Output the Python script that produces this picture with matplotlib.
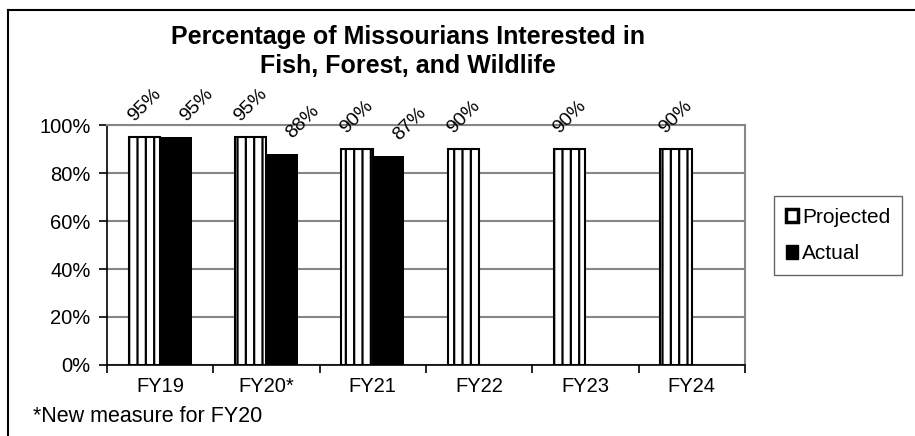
import numpy as np
import matplotlib.pyplot as plt
from matplotlib.patches import Patch
from matplotlib.lines import Line2D

plt.rcParams['font.family'] = ['Liberation Sans', 'DejaVu Sans']
plt.rcParams['hatch.linewidth'] = 1.6

years     = ['FY19', 'FY20*', 'FY21', 'FY22', 'FY23', 'FY24']
projected = [0.95, 0.95, 0.90, 0.90, 0.90, 0.90]
actual    = [0.95, 0.88, 0.87, None, None, None]
title1    = 'Percentage of Missourians Interested in'
title2    = 'Fish, Forest, and Wildlife'
footnote  = '*New measure for FY20'

fig = plt.figure(figsize=(9.15, 4.36), dpi=100)
ax = fig.add_axes([0.117, 0.163, 0.697, 0.550])

x = np.arange(len(years))
w = 0.295
barsP = ax.bar(x - w/2, projected, w, facecolor='white', edgecolor='black',
               linewidth=1.5, hatch='||', zorder=3)
act_x = [xi for xi, v in zip(x, actual) if v is not None]
act_v = [v for v in actual if v is not None]
barsA = ax.bar(np.array(act_x) + w/2, act_v, w, color='black', zorder=3)

# rotated value labels above the bars
for b, v in zip(barsP, projected):
    ax.annotate('{:.0%}'.format(v), (b.get_x() + b.get_width()/2, v),
                xytext=(0, 9), textcoords='offset points', ha='center',
                va='bottom', rotation=45, fontsize=14, annotation_clip=False)
for b, v in zip(barsA, act_v):
    ax.annotate('{:.0%}'.format(v), (b.get_x() + b.get_width()/2, v),
                xytext=(15, 9), textcoords='offset points', ha='center',
                va='bottom', rotation=45, fontsize=14, annotation_clip=False)

ax.set_xlim(-0.5, len(years) - 0.5)
ax.set_ylim(0, 1)
ax.set_yticks(np.arange(0, 1.01, 0.2))
ax.set_yticklabels(['{:.0%}'.format(t) for t in np.arange(0, 1.01, 0.2)], fontsize=14.5)
ax.set_xticks(x)
ax.set_xticklabels(years, fontsize=14.5)
ax.set_xticks(np.arange(-0.5, len(years), 1), minor=True)
ax.tick_params(axis='x', which='major', length=0, pad=9)
ax.tick_params(axis='x', which='minor', length=6, width=1.2, direction='out')
ax.tick_params(axis='y', length=6, width=1.2, pad=6)
ax.yaxis.grid(True, color='#868686', linewidth=1.5, zorder=0)
ax.set_axisbelow(True)
for s in ['left', 'bottom']:
    ax.spines[s].set_color('black')
    ax.spines[s].set_linewidth(1.2)
for s in ['top', 'right']:
    ax.spines[s].set_color('#868686')
    ax.spines[s].set_linewidth(1.5)

fig.text(0.446, 1 - 44/436, title1, ha='center', va='baseline', fontsize=18,
         fontweight='bold')
fig.text(0.446, 1 - 73/436, title2, ha='center', va='baseline', fontsize=18,
         fontweight='bold')
fig.text(33/915, 1 - 416/436, footnote, ha='left', va='center', fontsize=15.5)

handles = [Patch(facecolor='white', edgecolor='black', linewidth=2.5),
           Patch(facecolor='black', edgecolor='black')]
leg = fig.legend(handles, ['Projected', 'Actual'], loc='center',
                 bbox_to_anchor=(0.916, 0.46), fontsize=15, frameon=True,
                 fancybox=False, edgecolor='#404040', handlelength=0.6,
                 handleheight=0.6, handletextpad=0.2, labelspacing=0.85,
                 borderpad=0.55)
leg.get_frame().set_linewidth(1.0)

fig.add_artist(Line2D([8/915, 1], [1 - 10/436]*2, color='black', lw=1.5))
fig.add_artist(Line2D([8/915]*2, [0, 1 - 10/436], color='black', lw=1.5))

fig.savefig('out.png', dpi=100)
